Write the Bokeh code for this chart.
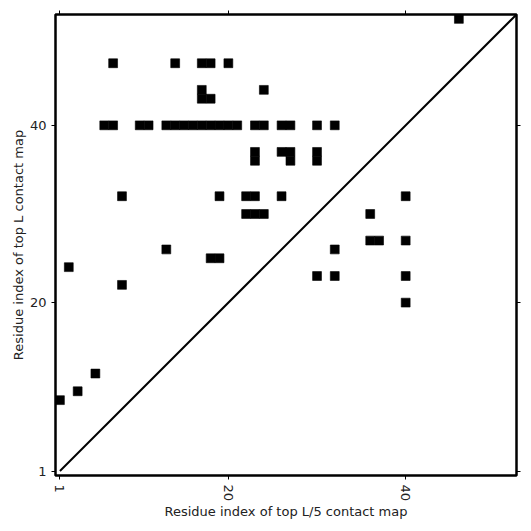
import math
from bokeh.plotting import figure
from bokeh.models import LinearAxis, FixedTicker, Range1d
from bokeh.embed import file_html
from bokeh.resources import INLINE

# Sequence length
L = 52
tick_values = [1, 20, 40]

# Contact cells (x = residue index of top L/5 map, y = residue index of top L map)
contact_x = [46,
             7, 14, 17, 18, 20,
             17, 24,
             17, 18,
             6, 7, 10, 11, 13, 14, 15, 16, 17, 18, 19, 20, 21, 23, 24, 26, 27, 30, 32,
             23, 26, 27, 30,
             23, 27, 30,
             8, 19, 22, 23, 26, 40,
             22, 23, 24, 36,
             36, 37, 40,
             13, 32,
             18, 19,
             2,
             30, 32, 40,
             8,
             40,
             5,
             3,
             1]
contact_y = [52,
             47, 47, 47, 47, 47,
             44, 44,
             43, 43,
             40, 40, 40, 40, 40, 40, 40, 40, 40, 40, 40, 40, 40, 40, 40, 40, 40, 40, 40,
             37, 37, 37, 37,
             36, 36, 36,
             32, 32, 32, 32, 32, 32,
             30, 30, 30, 30,
             27, 27, 27,
             26, 26,
             25, 25,
             24,
             23, 23, 23,
             22,
             20,
             12,
             10,
             9]

diag = [1, L + 0.5]

FONT = "DejaVu Sans"
TXT = "#222222"

p = figure(frame_width=461, frame_height=461,
           x_range=Range1d(0.5, L + 0.5), y_range=Range1d(0.5, L + 0.5),
           output_backend="svg", toolbar_location=None,
           min_border_left=55, min_border_right=7, min_border_top=14, min_border_bottom=10)
p.background_fill_color = "white"
p.border_fill_color = "white"
p.xgrid.visible = False
p.ygrid.visible = False
p.outline_line_color = "black"
p.outline_line_width = 2.5

p.rect(x=contact_x, y=contact_y, width=1, height=1, fill_color="black",
       line_color="black", line_width=0.6)
p.line(x=diag, y=diag, line_color="black", line_width=2)

def style(ax, labels=True):
    ax.ticker = FixedTicker(ticks=tick_values)
    ax.minor_tick_line_color = None
    ax.major_tick_in = 0
    ax.major_tick_out = 4
    ax.major_tick_line_color = "black"
    ax.major_tick_line_width = 1
    ax.axis_line_color = None
    ax.major_label_text_font = FONT
    ax.major_label_text_font_size = "13px"
    ax.major_label_text_color = TXT
    ax.axis_label_text_font = FONT
    ax.axis_label_text_font_size = "13px"
    ax.axis_label_text_font_style = "normal"
    ax.axis_label_text_color = TXT
    if not labels:
        ax.major_label_overrides = {t: "" for t in tick_values}
        ax.major_label_standoff = 0

style(p.xaxis[0])
style(p.yaxis[0])
p.xaxis[0].axis_label = "Residue index of top L/5 contact map"
p.yaxis[0].axis_label = "Residue index of top L contact map"
p.xaxis[0].major_label_orientation = -math.pi / 2
p.xaxis[0].major_label_standoff = 5
p.xaxis[0].axis_label_standoff = 0
p.yaxis[0].major_label_standoff = 5
p.yaxis[0].axis_label_standoff = 1

top = LinearAxis()
style(top, labels=False)
p.add_layout(top, "above")
right = LinearAxis()
style(right, labels=False)
p.add_layout(right, "right")

open("out.html", "w").write(file_html(p, INLINE))
